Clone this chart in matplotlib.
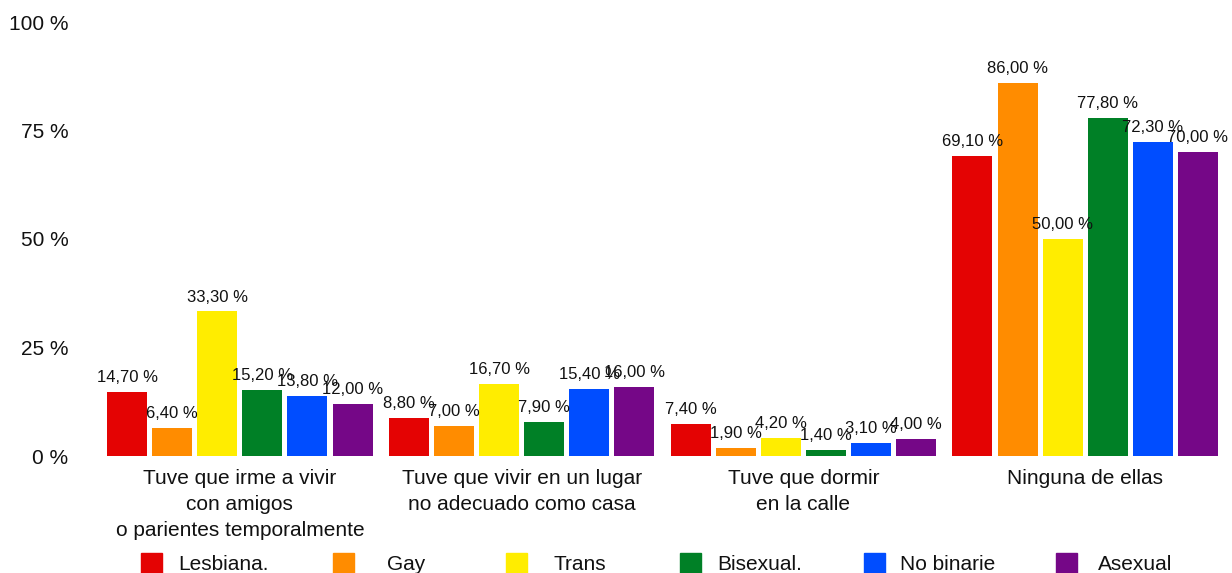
import matplotlib
matplotlib.use('Agg')
import matplotlib.pyplot as plt
from matplotlib.patches import Rectangle
import numpy as np

plt.rcParams['font.family'] = ['Liberation Sans', 'DejaVu Sans']

categories = ['Tuve que irme a vivir\ncon amigos\no parientes temporalmente',
              'Tuve que vivir en un lugar\nno adecuado como casa',
              'Tuve que dormir\nen la calle',
              'Ninguna de ellas']
series_names = ['Lesbiana.', 'Gay', 'Trans', 'Bisexual.', 'No binarie', 'Asexual']
lesbiana = [14.7, 8.8, 7.4, 69.1]
gay = [6.4, 7.0, 1.9, 86.0]
trans = [33.3, 16.7, 4.2, 50.0]
bisexual = [15.2, 7.9, 1.4, 77.8]
no_binarie = [13.8, 15.4, 3.1, 72.3]
asexual = [12.0, 16.0, 4.0, 70.0]
series = [lesbiana, gay, trans, bisexual, no_binarie, asexual]
colors = ['#E40303', '#FF8C00', '#FFED00', '#008026', '#004DFF', '#750787']
yticks = [0, 25, 50, 75, 100]

W, H = 1232, 573
fig = plt.figure(figsize=(W / 100, H / 100), dpi=100)
ax = fig.add_axes([99 / W, (H - 456) / H, (1226 - 99) / W, (456 - 22) / H])

x = np.arange(len(categories))
slot = 0.16
width = 0.142
for i, (vals, c) in enumerate(zip(series, colors)):
    pos = x + (i - 2.5) * slot
    ax.bar(pos, vals, width=width, color=c, zorder=2)
    for px, v in zip(pos, vals):
        ax.annotate(('%.2f' % v).replace('.', ',') + ' %', (px, v),
                    xytext=(0, 5), textcoords='offset points',
                    ha='center', va='bottom', fontsize=12, color='#111111')

ax.set_xlim(-0.5, 3.5)
ax.set_ylim(0, 100)
ax.set_yticks(yticks)
ax.set_yticklabels(['%d %%' % t for t in yticks])
ax.set_xticks(x)
ax.set_xticklabels(categories, linespacing=1.48)
ax.tick_params(axis='both', length=0, labelsize=15, colors='#111111')
ax.tick_params(axis='y', pad=22)
ax.tick_params(axis='x', pad=9)
for s in ax.spines.values():
    s.set_visible(False)

# legend drawn by hand along the bottom edge
sq_left = [141, 333, 506, 680, 864, 1056]
txt_left = [178, 387, 553, 717, 900, 1098]
for name, c, sx, tx in zip(series_names, colors, sq_left, txt_left):
    fig.add_artist(Rectangle((sx / W, 0), 21 / W, (H - 553) / H,
                             transform=fig.transFigure, color=c))
    fig.text(tx / W, (H - 570) / H, name, fontsize=15, va='baseline',
             ha='left', color='#111111')

fig.savefig('out.png', dpi=100)
